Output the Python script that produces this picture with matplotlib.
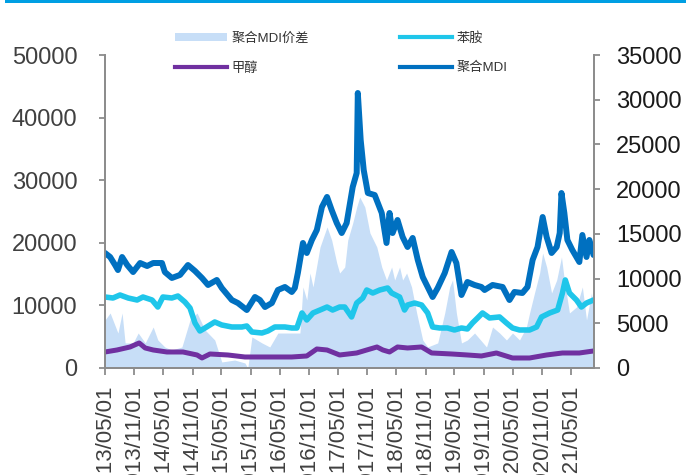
import matplotlib
matplotlib.use("Agg")
import matplotlib.pyplot as plt
import matplotlib.dates as mdates
from matplotlib.lines import Line2D
from matplotlib.patches import Patch, Rectangle
import pandas as pd

plt.rcParams['font.family'] = ['Liberation Sans', 'Noto Sans CJK SC', 'DejaVu Sans']

# ---- series (RMB/t) ----
mdi_dates = ["2013-05-01", "2013-06-02", "2013-07-03", "2013-07-21", "2013-08-16", "2013-09-17",
             "2013-10-24", "2013-12-07", "2014-01-20", "2014-02-27", "2014-04-23", "2014-05-11",
             "2014-06-24", "2014-08-14", "2014-10-03", "2014-11-16", "2014-12-30", "2015-02-06",
             "2015-04-02", "2015-05-03", "2015-07-05", "2015-08-12", "2015-10-07", "2015-11-27",
             "2015-12-28", "2016-01-29", "2016-03-12", "2016-04-19", "2016-06-02", "2016-07-15",
             "2016-08-03", "2016-08-22", "2016-09-23", "2016-10-17", "2016-11-18", "2016-12-19",
             "2017-01-20", "2017-02-21", "2017-03-22", "2017-04-23", "2017-05-24", "2017-06-24",
             "2017-08-01", "2017-08-26", "2017-09-02", "2017-09-20", "2017-10-09", "2017-11-04",
             "2017-12-17", "2018-01-30", "2018-03-01", "2018-03-20", "2018-04-08", "2018-05-09",
             "2018-06-10", "2018-07-11", "2018-08-12", "2018-09-13", "2018-10-14", "2018-11-14",
             "2018-12-15", "2019-01-16", "2019-03-01", "2019-04-13", "2019-05-13", "2019-06-14",
             "2019-07-21", "2019-09-04", "2019-10-17", "2019-11-06", "2019-12-26", "2020-02-27",
             "2020-04-10", "2020-05-11", "2020-06-30", "2020-08-01", "2020-09-02", "2020-10-03",
             "2020-11-04", "2020-11-29", "2020-12-30", "2021-01-31", "2021-02-19", "2021-03-02",
             "2021-03-20", "2021-04-08", "2021-05-09", "2021-06-22", "2021-07-11", "2021-08-06",
             "2021-08-24", "2021-09-19"]
mdi_price = [18370, 17730, 16450, 15650, 17730, 16450, 15330, 16770, 16290, 16770, 16770, 15330,
             14380, 14860, 16450, 15500, 14380, 13260, 14060, 12780, 10860, 10380, 9260, 11340,
             10860, 9740, 10380, 12460, 12940, 12140, 12780, 15170, 19970, 18370, 20450, 22040,
             25720, 27320, 25240, 23160, 21560, 23160, 28910, 31150, 43930, 36420, 31630, 27950,
             27630, 24760, 19970, 24760, 21560, 23640, 20930, 19330, 20770, 17250, 14540, 12940,
             11340, 12780, 15170, 18530, 16770, 11660, 13740, 13260, 12940, 12460, 13260, 12940,
             10860, 12140, 11980, 12940, 17250, 19330, 24120, 20930, 18370, 19330, 21560, 27950,
             24760, 20450, 18850, 16930, 21250, 17730, 20450, 18050]

aniline_dates = ["2013-05-01", "2013-06-20", "2013-08-03", "2013-09-23", "2013-11-18", "2013-12-25",
                 "2014-02-20", "2014-03-28", "2014-04-29", "2014-06-24", "2014-08-01", "2014-09-14",
                 "2014-10-16", "2014-11-16", "2014-12-17", "2015-01-18", "2015-03-20", "2015-05-03",
                 "2015-07-05", "2015-09-06", "2015-10-07", "2015-11-08", "2016-01-10", "2016-02-16",
                 "2016-03-31", "2016-06-02", "2016-07-15", "2016-08-16", "2016-09-17", "2016-10-17",
                 "2016-11-25", "2017-01-08", "2017-02-21", "2017-03-28", "2017-05-11", "2017-06-12",
                 "2017-07-25", "2017-08-26", "2017-10-03", "2017-10-28", "2017-12-05", "2018-01-18",
                 "2018-03-08", "2018-04-02", "2018-05-22", "2018-06-22", "2018-07-11", "2018-08-24",
                 "2018-10-07", "2018-11-14", "2018-12-15", "2019-01-28", "2019-03-18", "2019-05-01",
                 "2019-06-14", "2019-07-21", "2019-08-22", "2019-09-23", "2019-10-24", "2019-12-07",
                 "2020-02-08", "2020-03-22", "2020-04-29", "2020-06-12", "2020-08-14", "2020-09-27",
                 "2020-10-28", "2020-12-18", "2021-02-06", "2021-03-08", "2021-03-26", "2021-04-21",
                 "2021-06-04", "2021-07-05", "2021-08-06", "2021-09-19"]
aniline_price = [11340, 11180, 11660, 11180, 10860, 11340, 10860, 9740, 11340, 11180, 11500, 10540,
                 9580, 7190, 5910, 6390, 7350, 6870, 6550, 6550, 6710, 5750, 5590, 5910,
                 6550, 6550, 6390, 6390, 8790, 7670, 8790, 9260, 9740, 9260, 9740, 9740,
                 8150, 10380, 11180, 12460, 11980, 12460, 12780, 11980, 11340, 9260, 10060, 10380,
                 10060, 8790, 6550, 6390, 6390, 6070, 6390, 6230, 7190, 7990, 8790, 7990,
                 8150, 7190, 6390, 6070, 6070, 6550, 8150, 8790, 9260, 11980, 14060, 11980,
                 10860, 9740, 10380, 10860]

methanol_dates = ["2013-05-01", "2013-07-15", "2013-10-05", "2013-12-01", "2014-01-08", "2014-02-27",
                  "2014-05-24", "2014-09-02", "2014-11-29", "2014-12-30", "2015-02-18", "2015-06-10",
                  "2015-09-25", "2016-01-10", "2016-04-19", "2016-07-15", "2016-10-17", "2016-12-19",
                  "2017-02-21", "2017-05-11", "2017-08-26", "2017-10-28", "2017-12-31", "2018-02-06",
                  "2018-03-20", "2018-05-09", "2018-07-11", "2018-10-07", "2018-12-09", "2019-04-13",
                  "2019-07-21", "2019-10-17", "2020-01-19", "2020-04-29", "2020-08-14", "2020-11-29",
                  "2021-03-08", "2021-06-22", "2021-09-19"]
methanol_price = [2556, 2875, 3355, 3995, 3195, 2875, 2556, 2556, 2077, 1600, 2236, 2077,
                  1757, 1757, 1757, 1757, 1917, 3035, 2875, 2077, 2396, 2875, 3355, 2875,
                  2556, 3355, 3195, 3355, 2396, 2236, 2077, 1917, 2396, 1597, 1597, 2077,
                  2396, 2396, 2716]

spread_dates = ["2013-05-01", "2013-06-02", "2013-07-21", "2013-08-16", "2013-09-04", "2013-10-24",
                "2013-11-25", "2014-01-08", "2014-02-27", "2014-03-28", "2014-05-11", "2014-06-24",
                "2014-08-26", "2014-10-16", "2014-11-29", "2015-01-18", "2015-03-20", "2015-05-03",
                "2015-07-23", "2015-09-25", "2015-10-13", "2015-11-08", "2016-01-10", "2016-02-28",
                "2016-04-19", "2016-07-03", "2016-09-04", "2016-09-23", "2016-10-17", "2016-11-06",
                "2016-11-25", "2017-01-08", "2017-02-21", "2017-03-22", "2017-04-23", "2017-05-11",
                "2017-06-12", "2017-07-01", "2017-08-01", "2017-08-26", "2017-09-14", "2017-10-16",
                "2017-11-17", "2017-12-30", "2018-01-30", "2018-03-01", "2018-04-02", "2018-04-21",
                "2018-05-22", "2018-06-10", "2018-07-05", "2018-08-05", "2018-09-06", "2018-10-14",
                "2018-11-14", "2019-01-16", "2019-03-01", "2019-04-01", "2019-04-19", "2019-05-13",
                "2019-06-14", "2019-07-21", "2019-09-04", "2019-11-18", "2019-12-26", "2020-02-08",
                "2020-03-22", "2020-04-29", "2020-06-12", "2020-07-25", "2020-08-14", "2020-09-14",
                "2020-10-16", "2020-11-04", "2020-11-29", "2020-12-30", "2021-01-31", "2021-03-02",
                "2021-03-20", "2021-04-21", "2021-06-04", "2021-07-11", "2021-08-06", "2021-09-06",
                "2021-09-19"]
spread_value = [5370, 6150, 3910, 6150, 2800, 2800, 3910, 2800, 4580, 3130, 2350, 2010,
                2350, 5370, 6150, 4250, 3130, 670, 890, 560, 0, 3470, 2800, 2350,
                3910, 3910, 3910, 9060, 7600, 10620, 9060, 13530, 15770, 14310, 11740, 10620,
                11290, 14310, 16210, 18000, 19120, 18000, 15100, 13530, 11290, 9840, 11290, 9840,
                11290, 9840, 10620, 9060, 6150, 3130, 2350, 2800, 6150, 9060, 9840, 6150,
                2800, 3130, 3910, 2350, 4580, 3910, 3130, 3910, 3130, 4580, 6150, 8390,
                10620, 12860, 11290, 8390, 9840, 12410, 9840, 6150, 6820, 9060, 5370, 8390,
                6820]

tick_dates = pd.date_range("2013-05-01", "2021-05-01", freq="6MS")
left_ticks = [0, 10000, 20000, 30000, 40000, 50000]
right_ticks = [0, 5000, 10000, 15000, 20000, 25000, 30000, 35000]

labels = ["聚合MDI价差", "甲醇", "苯胺", "聚合MDI"]
c_spread, c_methanol, c_aniline, c_mdi = "#c7def7", "#7030a0", "#1fc6ea", "#0070c0"
spine_c = "#8c8c8c"

fig = plt.figure(figsize=(6.86, 4.75), dpi=100)
ax = fig.add_axes([0.1531, 0.2253, 0.8659 - 0.1531, 0.8842 - 0.2253])
ax2 = ax.twinx()

# spread area on the secondary axis, price lines drawn above it
ax2.fill_between(pd.to_datetime(spread_dates), spread_value, 0, color=c_spread, lw=0)
ax.set_zorder(ax2.get_zorder() + 1)
ax.patch.set_visible(False)

ax.plot(pd.to_datetime(methanol_dates), methanol_price, color=c_methanol, lw=3.6,
        solid_capstyle='round', solid_joinstyle='round')
ax.plot(pd.to_datetime(aniline_dates), aniline_price, color=c_aniline, lw=4.0,
        solid_capstyle='round', solid_joinstyle='round')
ax.plot(pd.to_datetime(mdi_dates), mdi_price, color=c_mdi, lw=4.3,
        solid_capstyle='round', solid_joinstyle='round')

xmin, xmax = pd.Timestamp("2013-05-01"), pd.Timestamp("2021-09-22")
ax.set_xlim(xmin, xmax)
ax.set_ylim(0, 50000)
ax2.set_ylim(0, 35000)
ax.set_yticks(left_ticks)
ax2.set_yticks(right_ticks)
ax.set_xticks(tick_dates)
ax.xaxis.set_major_formatter(mdates.DateFormatter("%Y/%m/%d"))

for a in (ax, ax2):
    a.spines['top'].set_visible(False)
    for s in ('left', 'right', 'bottom'):
        a.spines[s].set_color(spine_c)
        a.spines[s].set_linewidth(1.3)

ax.tick_params(axis='y', direction='out', length=4, width=1.3, color=spine_c,
               labelsize=17, labelcolor='#404040', pad=16)
ax2.tick_params(axis='y', direction='out', length=4, width=1.3, color=spine_c,
                labelsize=17, labelcolor='#1a1a1a', pad=12)
ax.tick_params(axis='x', direction='out', length=5, width=1.3, color=spine_c,
               labelsize=16, labelcolor='#404040', pad=7, labelrotation=90)

# legend above the plot area
handles = [Patch(facecolor=c_spread, edgecolor='none'),
           Line2D([], [], color=c_methanol, lw=3),
           Line2D([], [], color=c_aniline, lw=3),
           Line2D([], [], color=c_mdi, lw=3)]
fig.legend(handles, labels, ncol=2, loc='upper left', bbox_to_anchor=(175 / 686, 1 - 32 / 475),
           frameon=False, fontsize=9.5, labelcolor='#333333', handlelength=3.95, handleheight=0.6,
           handletextpad=0.35, columnspacing=6.9, labelspacing=1.3, borderpad=0, borderaxespad=0)

# thin brand bar along the top edge
fig.add_artist(Rectangle((5 / 686, 1 - 3 / 475), 1, 3 / 475, transform=fig.transFigure,
                         color="#009fe3", lw=0))

fig.savefig("out.png", dpi=100)
